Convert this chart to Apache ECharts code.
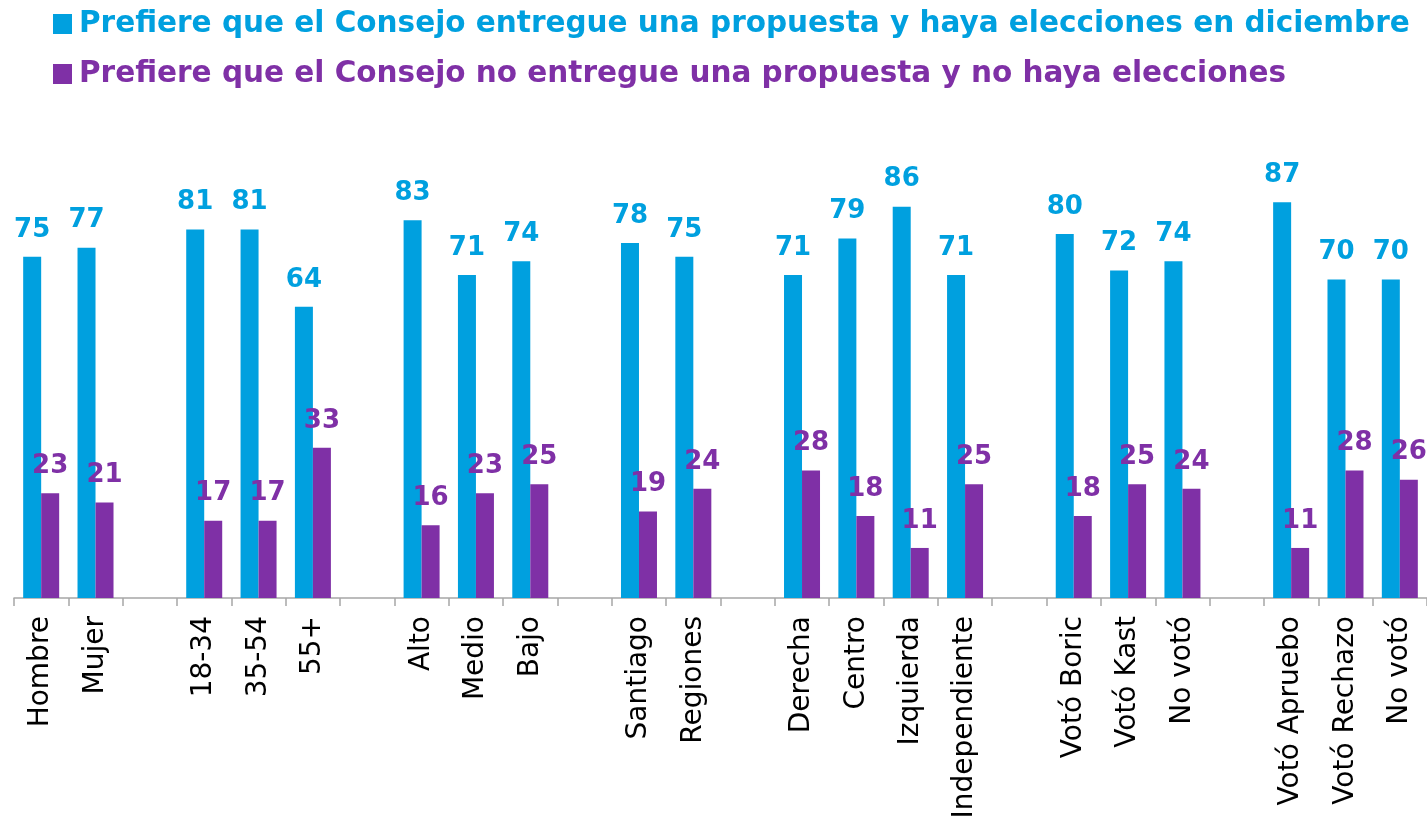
<!DOCTYPE html>
<html>
<head>
<meta charset="utf-8">
<script src="https://cdn.jsdelivr.net/npm/echarts@6/dist/echarts.min.js"></script>
<style>
  html, body { margin: 0; padding: 0; background: #ffffff; }
  #chart { width: 1427px; height: 833px; }
</style>
</head>
<body>
<div id="chart"></div>
<script>
  // Categories (empty strings are the gaps between groups)
  const categories = [
    'Hombre', 'Mujer', '',
    '18-34', '35-54', '55+', '',
    'Alto', 'Medio', 'Bajo', '',
    'Santiago', 'Regiones', '',
    'Derecha', 'Centro', 'Izquierda', 'Independiente', '',
    'Votó Boric', 'Votó Kast', 'No votó', '',
    'Votó Apruebo', 'Votó Rechazo', 'No votó'
  ];
  const entregaValues = [
    75, 77, null,
    81, 81, 64, null,
    83, 71, 74, null,
    78, 75, null,
    71, 79, 86, 71, null,
    80, 72, 74, null,
    87, 70, 70
  ];
  const noEntregaValues = [
    23, 21, null,
    17, 17, 33, null,
    16, 23, 25, null,
    19, 24, null,
    28, 18, 11, 25, null,
    18, 25, 24, null,
    11, 28, 26
  ];
  const seriesNames = [
    'Prefiere que el Consejo entregue una propuesta y haya elecciones en diciembre',
    'Prefiere que el Consejo no entregue una propuesta y no haya elecciones'
  ];

  const BLUE = '#00a0df';
  const PURPLE = '#7f30a6';
  const FONT = '"DejaVu Sans", sans-serif';

  const chart = echarts.init(document.getElementById('chart'));

  const labelStyle = (color) => ({
    show: true,
    position: 'top',
    distance: 14,
    color: color,
    fontFamily: FONT,
    fontWeight: 'bold',
    fontSize: 26
  });

  chart.setOption({
    backgroundColor: '#ffffff',
    animation: false,
    legend: {
      orient: 'vertical',
      left: 48,
      top: 3,
      icon: 'rect',
      itemWidth: 19,
      itemHeight: 20,
      itemGap: 18,
      selectedMode: false,
      textStyle: {
        fontFamily: FONT,
        fontWeight: 'bold',
        fontSize: 29.5,
        lineHeight: 32,
        padding: [0, 0, 0, 2]
      },
      data: [
        { name: seriesNames[0], textStyle: { color: BLUE } },
        { name: seriesNames[1], textStyle: { color: PURPLE } }
      ]
    },
    grid: {
      left: 14,
      right: 0,
      top: 143,
      bottom: 235,
      containLabel: false
    },
    xAxis: {
      type: 'category',
      data: categories,
      axisLine: { lineStyle: { color: '#a6a6a6', width: 1.5 } },
      axisTick: { show: true, length: 8, lineStyle: { color: '#a6a6a6', width: 1.5 } },
      axisLabel: {
        interval: 0,
        rotate: 90,
        margin: 18,
        color: '#000000',
        fontFamily: FONT,
        fontSize: 28
      }
    },
    yAxis: {
      type: 'value',
      min: 0,
      max: 100,
      show: false,
      splitLine: { show: false }
    },
    series: [
      {
        name: seriesNames[0],
        type: 'bar',
        data: entregaValues,
        barWidth: 18,
        barGap: '0%',
        itemStyle: { color: BLUE },
        label: labelStyle(BLUE)
      },
      {
        name: seriesNames[1],
        type: 'bar',
        data: noEntregaValues,
        barWidth: 18,
        barGap: '0%',
        itemStyle: { color: PURPLE },
        label: labelStyle(PURPLE)
      }
    ]
  });

  window.addEventListener('resize', () => chart.resize());
</script>
</body>
</html>
